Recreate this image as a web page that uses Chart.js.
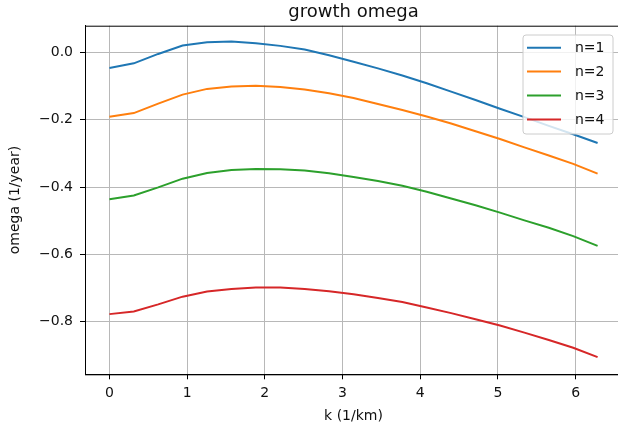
<!DOCTYPE html>
<html>
<head>
<meta charset="utf-8">
<script src="https://cdn.jsdelivr.net/npm/chart.js@4"></script>
<style>
html,body{margin:0;padding:0;overflow:hidden;background:#fff;}
#wrap{width:640px;height:433px;}
</style>
</head>
<body>
<div id="wrap"><canvas id="c" width="640" height="433"></canvas></div>
<script>
const kValues = [0, 0.314, 0.628, 0.942, 1.257, 1.571, 1.885, 2.199, 2.513, 2.827, 3.142,
                 3.456, 3.770, 4.084, 4.398, 4.712, 5.027, 5.341, 5.655, 5.969, 6.283];
const omegaN1 = [-0.046, -0.032, -0.004, 0.021, 0.031, 0.033, 0.028, 0.020, 0.009, -0.008, -0.027,
                 -0.047, -0.068, -0.091, -0.116, -0.141, -0.167, -0.192, -0.218, -0.243, -0.269];
const omegaN2 = [-0.191, -0.180, -0.152, -0.125, -0.108, -0.101, -0.099, -0.102, -0.110, -0.121, -0.135,
                 -0.153, -0.171, -0.190, -0.211, -0.234, -0.257, -0.282, -0.306, -0.331, -0.360];
const omegaN3 = [-0.436, -0.425, -0.401, -0.375, -0.358, -0.349, -0.346, -0.347, -0.351, -0.359, -0.370,
                 -0.382, -0.396, -0.414, -0.434, -0.454, -0.476, -0.499, -0.521, -0.546, -0.575];
const omegaN4 = [-0.778, -0.770, -0.749, -0.726, -0.711, -0.703, -0.699, -0.699, -0.703, -0.710, -0.719,
                 -0.730, -0.742, -0.758, -0.775, -0.793, -0.812, -0.833, -0.855, -0.878, -0.906];
const seriesLabels = ['n=1', 'n=2', 'n=3', 'n=4'];
const xTicks = [0, 1, 2, 3, 4, 5, 6];
const yTicks = [-0.8, -0.6, -0.4, -0.2, 0.0];
const titleText = 'growth omega';
const xTitle = 'k (1/km)';
const yTitle = 'omega (1/year)';

const colors = ['#1f77b4', '#ff7f0e', '#2ca02c', '#d62728'];
const allSeries = [omegaN1, omegaN2, omegaN3, omegaN4];
const FONT = "'DejaVu Sans', sans-serif";
const TXT = '#111';

const datasets = allSeries.map((s, i) => ({
  label: seriesLabels[i],
  data: s.map((v, j) => ({x: kValues[j], y: v})),
  borderColor: colors[i],
  backgroundColor: colors[i],
  borderWidth: 2,
  pointRadius: 0,
  tension: 0,
  fill: false
}));

const frame = {
  id: 'frame',
  afterDatasetsDraw(chart) {
    const {ctx, chartArea: a} = chart;
    ctx.save();
    ctx.strokeStyle = '#000';
    ctx.lineWidth = 1;
    ctx.strokeRect(a.left + 0.5, a.top + 0.5, a.right - a.left, a.bottom - a.top);
    // legend
    const lx = 523, ly = 35, lw = 90, lh = 99, r = 3;
    ctx.beginPath();
    ctx.moveTo(lx + r, ly);
    ctx.arcTo(lx + lw, ly, lx + lw, ly + lh, r);
    ctx.arcTo(lx + lw, ly + lh, lx, ly + lh, r);
    ctx.arcTo(lx, ly + lh, lx, ly, r);
    ctx.arcTo(lx, ly, lx + lw, ly, r);
    ctx.closePath();
    ctx.fillStyle = 'rgba(255,255,255,0.8)';
    ctx.fill();
    ctx.strokeStyle = '#cccccc';
    ctx.lineWidth = 1;
    ctx.stroke();
    ctx.font = '14px ' + FONT;
    ctx.textBaseline = 'middle';
    ctx.textAlign = 'left';
    chart.data.datasets.forEach((d, i) => {
      const y = 47.7 + i * 23.9;
      ctx.strokeStyle = d.borderColor;
      ctx.lineWidth = 2;
      ctx.beginPath();
      ctx.moveTo(527, y);
      ctx.lineTo(561, y);
      ctx.stroke();
      ctx.fillStyle = TXT;
      ctx.fillText(d.label, 575, y + 1);
    });
    ctx.restore();
  }
};

new Chart(document.getElementById('c'), {
  type: 'line',
  data: {datasets},
  options: {
    responsive: false,
    animation: false,
    devicePixelRatio: 1,
    layout: {padding: {left: 0, right: 18, top: 0, bottom: 0}},
    plugins: {
      legend: {display: false},
      tooltip: {enabled: false},
      title: {
        display: true, text: titleText, fullSize: false, color: TXT,
        font: {family: FONT, size: 18, weight: 'normal'},
        padding: {top: 2, bottom: 2.1}
      }
    },
    scales: {
      x: {
        type: 'linear', min: -0.314, max: 6.597,
        afterBuildTicks: s => { s.ticks = xTicks.map(v => ({value: v})); },
        afterFit: s => { s.height = 58.7; },
        ticks: {
          color: TXT, font: {family: FONT, size: 14}, padding: 6,
          callback: v => String(v)
        },
        grid: {color: '#b8b8b8', lineWidth: 1, tickColor: '#000', tickLength: 5, drawTicks: true},
        border: {display: true, color: '#000', width: 1},
        title: {display: true, text: xTitle, color: TXT, font: {family: FONT, size: 14}, padding: {top: 0, bottom: 8.6}}
      },
      y: {
        type: 'linear', min: -0.957, max: 0.080,
        afterBuildTicks: s => { s.ticks = yTicks.map(v => ({value: v})); },
        afterFit: s => { s.width = 85; },
        ticks: {
          color: TXT, font: {family: FONT, size: 14}, padding: 7,
          callback: v => (Math.abs(v) < 1e-9 ? '0.0' : v.toFixed(1).replace('-', '\u2212'))
        },
        grid: {color: '#b8b8b8', lineWidth: 1, tickColor: '#000', tickLength: 5, drawTicks: true},
        border: {display: true, color: '#000', width: 1},
        title: {display: true, text: yTitle, color: TXT, font: {family: FONT, size: 14}, padding: {top: 7, bottom: 0}}
      }
    }
  },
  plugins: [frame]
});
</script>
</body>
</html>
